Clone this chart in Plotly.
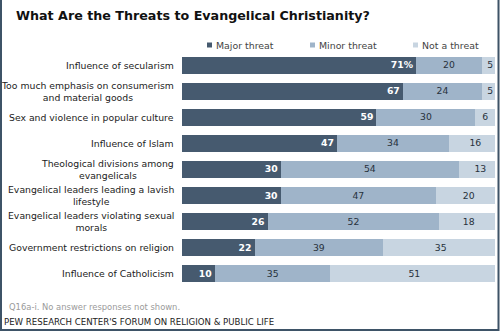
import plotly.graph_objects as go

categories = [
    "Influence of secularism",
    "Too much emphasis on consumerism<br>and material goods",
    "Sex and violence in popular culture",
    "Influence of Islam",
    "Theological divisions among<br>evangelicals",
    "Evangelical leaders leading a lavish<br>lifestyle",
    "Evangelical leaders violating sexual<br>morals",
    "Government restrictions on religion",
    "Influence of Catholicism",
]
major = [71, 67, 59, 47, 30, 30, 26, 22, 10]
minor = [20, 24, 30, 34, 54, 47, 52, 39, 35]
not_threat = [5, 5, 6, 16, 13, 20, 18, 35, 51]
series_names = ["Major threat", "Minor threat", "Not a threat"]
colors = ["#465a6f", "#9fb4c9", "#c8d5e1"]

title_text = "What Are the Threats to Evangelical Christianity?"
note_text = "Q16a-i. No answer responses not shown."
source_text = "PEW RESEARCH CENTER'S FORUM ON RELIGION &amp; PUBLIC LIFE"

W, H = 500, 331
L, R, T, B = 182, 5, 52, 44
PW, PH = W - L - R, H - T - B
FONT = "DejaVu Sans"


def px2x(px):
    return (px - L) / PW


def py2y(py):
    return (H - B - py) / PH


major_text = [f"{v}%" if i == 0 else str(v) for i, v in enumerate(major)]

fig = go.Figure()
fig.add_trace(go.Bar(
    y=categories, x=major, orientation="h", name=series_names[0],
    marker=dict(color=colors[0], line=dict(width=0)),
    text=major_text, textposition="inside", insidetextanchor="end", textangle=0,
    textfont=dict(family=FONT, size=11, color="white", weight="bold"),
    width=0.65,
))
fig.add_trace(go.Bar(
    y=categories, x=minor, orientation="h", name=series_names[1],
    marker=dict(color=colors[1], line=dict(width=0)),
    text=[str(v) for v in minor], textposition="inside", insidetextanchor="middle", textangle=0,
    textfont=dict(family=FONT, size=11, color="#27313b"),
    width=0.65,
))
fig.add_trace(go.Bar(
    y=categories, x=not_threat, orientation="h", name=series_names[2],
    marker=dict(color=colors[2], line=dict(width=0)),
    text=[str(v) for v in not_threat], textposition="inside", insidetextanchor="middle", textangle=0,
    textfont=dict(family=FONT, size=11, color="#27313b"),
    width=0.65,
))

annotations = []
for c in categories:
    annotations.append(dict(
        xref="paper", yref="y", x=0, y=c, xshift=-6, xanchor="right", yanchor="middle",
        text=c, align="center", showarrow=False,
        font=dict(family=FONT, size=9.3, color="#222222"),
    ))

# custom legend
legend_px = [207, 310, 413]
shapes = []
for name, col, lx in zip(series_names, colors, legend_px):
    shapes.append(dict(type="rect", xref="paper", yref="paper",
                       x0=px2x(lx), x1=px2x(lx + 5), y0=py2y(47.5), y1=py2y(42.5),
                       fillcolor=col, line=dict(width=0)))
    annotations.append(dict(
        xref="paper", yref="paper", x=px2x(lx + 7), y=py2y(45), xanchor="left", yanchor="middle",
        text=name, showarrow=False, font=dict(family=FONT, size=9.4, color="#444444"),
    ))

annotations.append(dict(
    xref="paper", yref="paper", x=px2x(7), y=py2y(306.5), xanchor="left", yanchor="middle",
    text=note_text, showarrow=False, font=dict(family=FONT, size=8.4, color="#9a9a9a"),
))
annotations.append(dict(
    xref="paper", yref="paper", x=px2x(2), y=py2y(321.5), xanchor="left", yanchor="middle",
    text=source_text, showarrow=False, font=dict(family=FONT, size=8.6, color="#222222"),
))

# frame
shapes.append(dict(type="rect", xref="paper", yref="paper",
                   x0=px2x(1), x1=px2x(498.5), y0=py2y(330), y1=py2y(-10),
                   line=dict(color="#3e5367", width=2), fillcolor="rgba(0,0,0,0)", layer="above"))

fig.update_layout(
    width=W, height=H,
    margin=dict(l=L, r=R, t=T, b=B, pad=0),
    paper_bgcolor="white", plot_bgcolor="white",
    barmode="stack", bargap=0.35,
    showlegend=False,
    hovermode=False,
    title=dict(text=f"<b>{title_text}</b>", x=16 / W, xanchor="left",
               y=1 - 16 / H, yanchor="middle",
               font=dict(family=FONT, size=12.7, color="#111111")),
    xaxis=dict(range=[0, PW / 3.296], visible=False, fixedrange=True),
    yaxis=dict(autorange="reversed", showticklabels=False, showgrid=False,
               zeroline=False, ticks="", fixedrange=True),
    annotations=annotations,
    shapes=shapes,
    uniformtext=dict(mode=False),
)

fig.write_html("out.html", config={"displayModeBar": False})
